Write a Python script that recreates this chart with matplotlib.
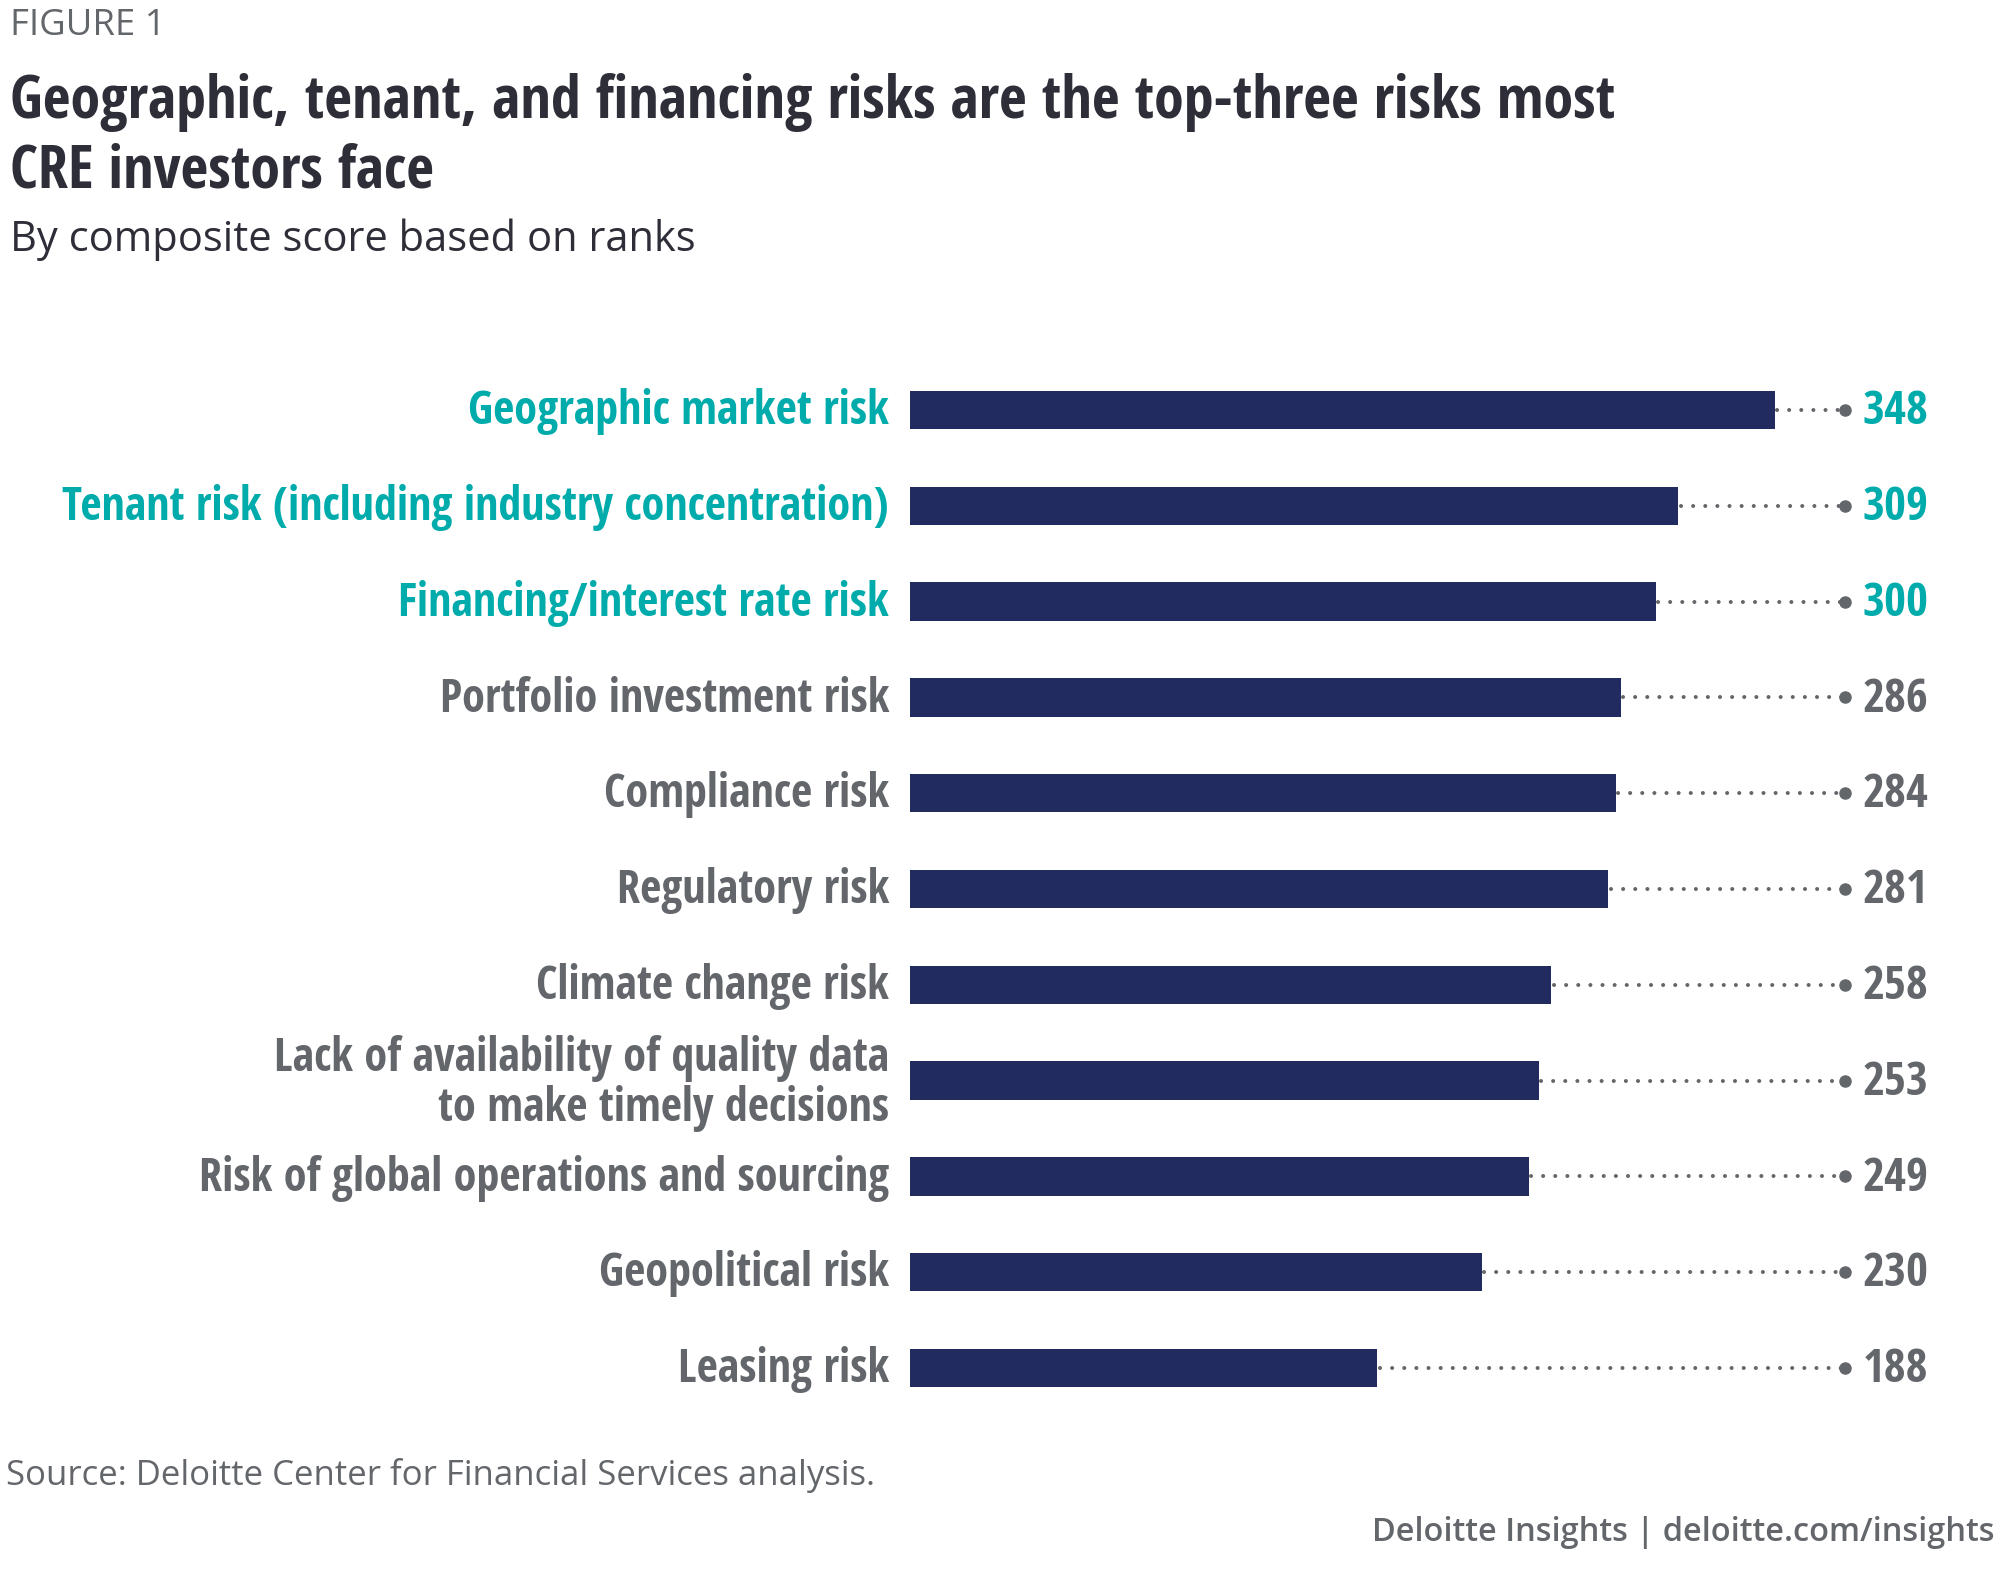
import matplotlib
matplotlib.use('Agg')
import matplotlib.pyplot as plt

# data
risks = [
    'Geographic market risk',
    'Tenant risk (including industry concentration)',
    'Financing/interest rate risk',
    'Portfolio investment risk',
    'Compliance risk',
    'Regulatory risk',
    'Climate change risk',
    'Lack of availability of quality data\nto make timely decisions',
    'Risk of global operations and sourcing',
    'Geopolitical risk',
    'Leasing risk',
]
scores = [348, 309, 300, 286, 284, 281, 258, 253, 249, 230, 188]
top_n = 3

NAVY = '#212B60'
TEAL = '#00ABAB'
GRAY = '#63666A'
DARK = '#2D2E38'
COND = 'Open Sans Condensed'
REG = 'Open Sans'

W, H = 2000, 1579
fig = plt.figure(figsize=(W / 100, H / 100), dpi=100)

# axes placed in pixels: x=0 at 910px, 348 at 1775px
x0 = 910
px_per = (1775 - x0) / 348.0
xmax = 400
ax_left, ax_right = x0, x0 + xmax * px_per
row = 95.8
ax_top, ax_bot = 410 - row / 2, 1368 + row / 2
ax = fig.add_axes([ax_left / W, 1 - ax_bot / H, (ax_right - ax_left) / W, (ax_bot - ax_top) / H])
ax.set_xlim(0, xmax)
ax.set_ylim(len(risks) - 0.5, -0.5)
ax.axis('off')

ypos = list(range(len(risks)))
ax.barh(ypos, scores, height=0.40, color=NAVY, zorder=2)

dot_x = (1845 - x0) / px_per
val_x = (1863 - x0) / px_per
lab_x = (889 - x0) / px_per
dy = -0.04  # nudge texts up a few pixels
for i, (name, s) in enumerate(zip(risks, scores)):
    c = TEAL if i < top_n else GRAY
    ax.plot([s + 1, dot_x], [i, i], color=GRAY, lw=2.9,
            linestyle=(0, (0.01, 3.0)), dash_capstyle='round', zorder=1)
    ax.plot([dot_x], [i], 'o', color=GRAY, ms=8, zorder=3)
    ax.text(val_x, i + dy, str(s), ha='left', va='center_baseline', color=c,
            family=COND, weight='bold', fontsize=34, clip_on=False)
    ax.text(lab_x, i + dy, name, ha='right', va='center_baseline', color=c,
            family=COND, weight='bold', fontsize=33.3, linespacing=1.08,
            clip_on=False)

def ftext(x, y, s, **kw):
    fig.text(x / W, 1 - y / H, s, va='baseline', **kw)

ftext(10, 35, 'FIGURE 1', family=REG, fontsize=26.3, color=GRAY)
ftext(10, 118, 'Geographic, tenant, and financing risks are the top-three risks most',
      family=COND, weight='bold', fontsize=43.4, color=DARK)
ftext(10, 188, 'CRE investors face', family=COND, weight='bold', fontsize=43.4, color=DARK)
ftext(10, 251, 'By composite score based on ranks', family=REG, fontsize=30, color=DARK)
ftext(6, 1485, 'Source: Deloitte Center for Financial Services analysis.',
      family=REG, fontsize=25, color=GRAY)
fig.text(1995 / W, 1 - 1541 / H, 'Deloitte Insights | deloitte.com/insights',
         ha='right', va='baseline', family=REG, weight='semibold', fontsize=23.4, color=GRAY)

fig.savefig('out.png', dpi=100)
